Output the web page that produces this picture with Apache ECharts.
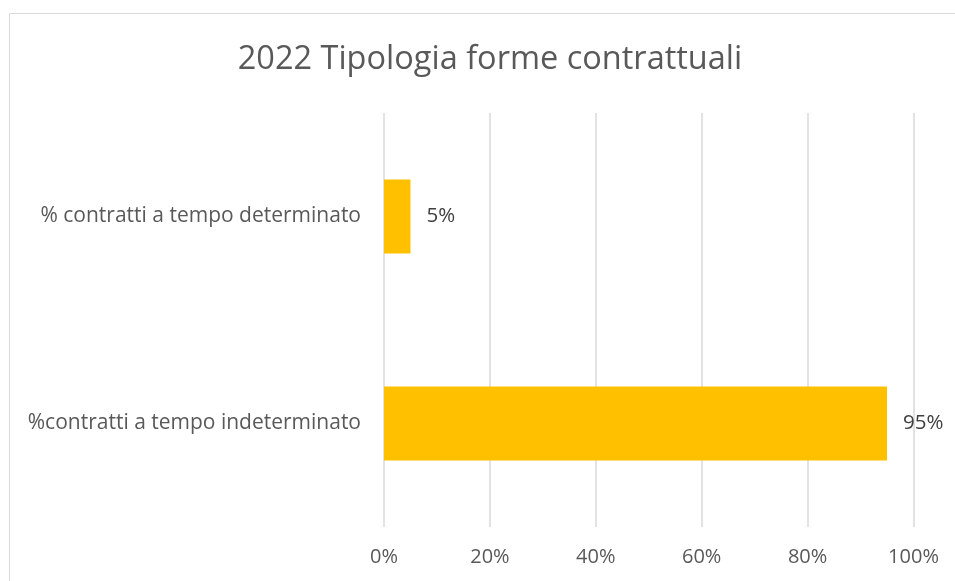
<!DOCTYPE html>
<html>
<head>
<meta charset="utf-8">
<script src="https://cdn.jsdelivr.net/npm/echarts@6/dist/echarts.min.js"></script>
<style>
  html, body { margin: 0; padding: 0; background: #fff; }
  #chart { width: 955px; height: 581px; }
</style>
</head>
<body>
<div id="chart"></div>
<script>
const chartTitle = "2022 Tipologia forme contrattuali";
// bottom-to-top order, as the category axis draws it
const categories = ["%contratti a tempo indeterminato", "% contratti a tempo determinato"];
const percentValues = [95, 5];
const xTicks = [0, 20, 40, 60, 80, 100];

const font = "'Open Sans', 'Noto Sans', sans-serif";
const chart = echarts.init(document.getElementById("chart"));

chart.setOption({
  animation: false,
  backgroundColor: "#fff",
  graphic: [
    {
      type: "rect",
      shape: { x: 9.5, y: 13.5, width: 1000, height: 700 },
      style: { fill: "none", stroke: "#d9d9d9", lineWidth: 1 },
      silent: true,
    },
  ],
  title: {
    text: chartTitle,
    left: 485,
    textAlign: "center",
    top: 38,
    textStyle: { fontFamily: font, fontSize: 32.5, fontWeight: "normal", color: "#595959" },
  },
  grid: { left: 384, right: 41.5, top: 113, bottom: 54 },
  xAxis: {
    type: "value",
    min: xTicks[0],
    max: xTicks[xTicks.length - 1],
    interval: 20,
    axisLine: { show: false },
    axisTick: { show: false },
    splitLine: { lineStyle: { color: "#d9d9d9", width: 1.5 } },
    axisLabel: {
      formatter: "{value}%",
      margin: 20,
      fontFamily: font,
      fontSize: 20,
      color: "#595959",
    },
  },
  yAxis: {
    type: "category",
    data: categories,
    axisLine: { show: false },
    axisTick: { show: false },
    axisLabel: { margin: 23, fontFamily: font, fontSize: 21, color: "#595959" },
  },
  series: [
    {
      type: "bar",
      data: percentValues,
      barWidth: 74,
      itemStyle: { color: "#ffc000" },
      label: {
        show: true,
        position: "right",
        distance: 16,
        formatter: "{c}%",
        fontFamily: font,
        fontSize: 20.5,
        color: "#404040",
      },
    },
  ],
});
</script>
</body>
</html>
